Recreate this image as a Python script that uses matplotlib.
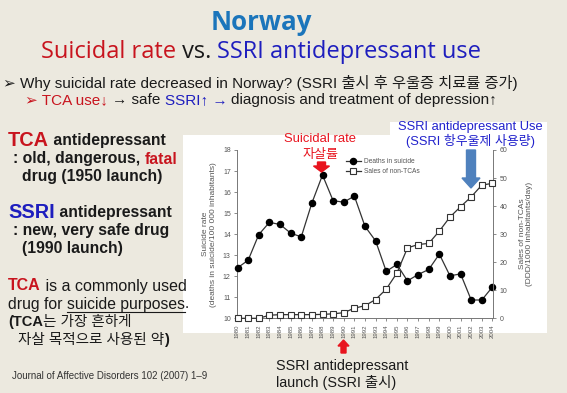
import matplotlib
matplotlib.use("Agg")
import matplotlib.pyplot as plt
from matplotlib.patches import Rectangle, FancyArrow
from matplotlib.lines import Line2D

W, H = 567, 393
years = list(range(1980, 2005))
suicide_rate = [12.40, 12.76, 13.98, 14.56, 14.46, 14.05, 13.87, 15.48, 16.81, 15.59,
                15.52, 15.81, 14.37, 13.68, 12.23, 12.56, 11.78, 12.08, 12.32, 13.05,
                12.02, 12.11, 10.87, 10.87, 11.49]
sales_non_tca = [0.0, 0.0, 0.0, 1.1, 1.3, 1.3, 1.3, 1.3, 1.4, 1.6,
                 2.0, 3.6, 4.5, 6.7, 10.4, 16.1, 25.1, 26.3, 26.7, 31.1,
                 36.1, 39.8, 43.3, 47.5, 48.1]
left_ticks = list(range(10, 19))
right_ticks = list(range(0, 61, 10))

BG = '#ECE9DF'
RED = '#C8141E'
BLUE = '#1E1EBE'
DARK = '#1A1A1A'
FONT = ['Liberation Sans', 'DejaVu Sans', 'Noto Sans CJK KR']

fig = plt.figure(figsize=(W / 100, H / 100), dpi=100)
fig.patch.set_facecolor(BG)
r = fig.canvas.get_renderer()


def fx(x):
    return x / W


def fy(y):
    return 1 - y / H


def width_of(s, props):
    t = fig.text(0, 0, s + '.', **props)
    t2 = fig.text(0, 0, '.', **props)
    w = t.get_window_extent(r).width - t2.get_window_extent(r).width
    t.remove(); t2.remove()
    return w


def put(segs, x, y, ha='left'):
    widths = [width_of(s, p) for s, p in segs]
    total = sum(widths)
    cur = x - total / 2 if ha == 'center' else x
    out = []
    for (s, p), w in zip(segs, widths):
        t = fig.text(fx(cur), fy(y), s, va='center', ha='left', zorder=6, **p)
        out.append((t, cur, w))
        cur += w
    return out


def P(color=DARK, size=10, weight='normal', family=FONT):
    return dict(color=color, fontsize=size, fontweight=weight, family=family)


# white chart panel (behind the axes)
fig.patches.append(Rectangle((fx(183), fy(333)), (547 - 183) / W, (333 - 135) / H,
                             transform=fig.transFigure, facecolor='white', edgecolor='none', zorder=-10))
fig.patches.append(Rectangle((fx(390), fy(135)), (547 - 390) / W, (135 - 122) / H,
                             transform=fig.transFigure, facecolor='white', edgecolor='none', zorder=-10))

# Titles
TF = ['Open Sans', 'DejaVu Sans']
put([('Norway', P('#1B75BB', 18.6, 'bold', TF))], 261, 22, ha='center')
put([('Suicidal rate', P(RED, 17, 'normal', TF)),
     (' vs. ', P(DARK, 17, 'normal', TF)),
     ('SSRI antidepressant use', P(BLUE, 17, 'normal', TF))], 261, 52, ha='center')

put([('➢ Why suicidal rate decreased in Norway? (SSRI 출시 후 우울증 치료률 증가)', P(DARK, 11))], 260, 83, ha='center')
put([('➢ TCA use↓ ', P(RED, 11)),
     ('→ safe ', P(DARK, 11)),
     ('SSRI↑ → ', P(BLUE, 11)),
     ('diagnosis and treatment of depression↑', P(DARK, 11))], 261, 100, ha='center')

# Left notes
put([('TCA', P(RED, 14.3, 'bold')), (' antidepressant', P(DARK, 11.3, 'bold'))], 8, 140)
put([(': old, dangerous, ', P(DARK, 11.3, 'bold')), ('fatal', P(RED, 11.3, 'bold'))], 13, 159)
put([('drug (1950 launch)', P(DARK, 11.3, 'bold'))], 22, 176)
put([('SSRI', P(BLUE, 14.3, 'bold')), (' antidepressant', P(DARK, 11.3, 'bold'))], 8, 213)
put([(': new, very safe drug', P(DARK, 11.3, 'bold'))], 13, 231)
put([('(1990 launch)', P(DARK, 11.3, 'bold'))], 22, 248)
put([('TCA', P(RED, 11.5, 'bold')), (' is a commonly used', P(DARK, 11.5))], 8, 286)
segs = put([('drug for ', P(DARK, 11.3)), ('suicide purposes', P(DARK, 11.3)), ('.', P(DARK, 11.3))], 8, 304)
_, ux, uw = segs[1]
fig.lines.append(Line2D([fx(ux), fx(ux + uw)], [fy(312), fy(312)], transform=fig.transFigure,
                        color=DARK, lw=0.8))
put([('(TCA', P(DARK, 10.5, 'bold')), ('는 가장 흔하게', P(DARK, 10.5))], 8, 322)
put([('자살 목적으로 사용된 약', P(DARK, 10.5)), (')', P(DARK, 10.5, 'bold'))], 18, 340)

put([('Journal of Affective Disorders 102 (2007) 1–9', P('#333333', 7))], 12, 376)

# Chart
AX_L, AX_R, AX_T, AX_B = 237.0, 493.3, 150.0, 318.3
ax = fig.add_axes([fx(AX_L), fy(AX_B), (AX_R - AX_L) / W, (AX_B - AX_T) / H])
ax.set_facecolor('none')
ax.set_xlim(1979.95, 2004.08)
ax.set_ylim(10, 18)
ax2 = ax.twinx()
ax2.set_ylim(0, 60)

GRAY = '#555555'
l1, = ax.plot(years, suicide_rate, color='#333333', lw=0.9, marker='o', markersize=4.4,
              markerfacecolor='black', markeredgecolor='black', label='Deaths in suicide',
              zorder=3, clip_on=False)
l2, = ax2.plot(years, sales_non_tca, color='#333333', lw=0.9, marker='s', markersize=3.7,
               markerfacecolor='white', markeredgecolor='#333333', markeredgewidth=0.8,
               label='Sales of non-TCAs', zorder=3, clip_on=False)

for a in (ax, ax2):
    a.spines['top'].set_visible(False)
    for s in a.spines.values():
        s.set_color('#777777')
        s.set_linewidth(0.7)
ax.spines['right'].set_visible(False)
ax2.spines['left'].set_visible(False)
ax2.spines['bottom'].set_visible(False)

ax.set_xticks(years)
ax.set_xticklabels([str(y) for y in years], rotation=90, fontsize=4.3, color=GRAY, family=FONT)
ax.set_yticks(left_ticks)
ax.set_yticklabels([str(v) for v in left_ticks], fontsize=5, color=GRAY, family=FONT)
ax2.set_yticks(right_ticks)
ax2.set_yticklabels([str(v) for v in right_ticks], fontsize=5, color=GRAY, family=FONT)
for a in (ax, ax2):
    a.tick_params(length=2.5, width=0.6, color='#777777', pad=2)

ax.set_ylabel('Suicide rate\n(deaths in suicide/100 000 inhabitants)', fontsize=6, color=GRAY,
              family=FONT, labelpad=4, linespacing=1.2)
ax2.set_ylabel('Sales of non-TCAs\n(DDD/1000 inhabitants/day)', fontsize=6, color=GRAY,
               family=FONT, labelpad=8, linespacing=1.05)

leg = ax.legend(handles=[l1, l2], loc='upper left', bbox_to_anchor=(fx(346), fy(158)),
                bbox_transform=fig.transFigure, frameon=False, handlelength=2.2,
                handletextpad=0.5, labelspacing=0.5, borderpad=0, borderaxespad=0, labelcolor=GRAY,
                prop={'family': FONT, 'size': 4.8})

# Annotations on chart
put([('Suicidal rate', P('#E8141E', 9.4))], 320, 139, ha='center')
put([('자살률', P('#E8141E', 9.4))], 321, 155, ha='center')
fig.patches.append(FancyArrow(fx(321.5), fy(162), 0, -(172 - 162) / H, width=8 / W,
                              head_width=16 / W, head_length=6 / H, length_includes_head=True,
                              transform=fig.transFigure, color='#E8141E', zorder=5))

put([('SSRI antidepressant Use', P('#2222CC', 9.3))], 470, 127, ha='center')
put([('(SSRI 항우울제 사용량)', P('#2222CC', 9.3))], 470, 141, ha='center')
fig.patches.append(FancyArrow(fx(471), fy(150), 0, -(188 - 150) / H, width=9 / W,
                              head_width=18 / W, head_length=10 / H, length_includes_head=True,
                              transform=fig.transFigure, color='#4F81BD', zorder=5))

# bottom launch annotation
fig.patches.append(FancyArrow(fx(343.5), fy(353), 0, (353 - 340) / H, width=5 / W,
                              head_width=11 / W, head_length=6 / H, length_includes_head=True,
                              transform=fig.transFigure, color='#E8141E', zorder=5))
put([('SSRI antidepressant', P(DARK, 10.4))], 276, 366)
put([('launch (SSRI 출시)', P(DARK, 10.4))], 276, 382)

fig.savefig('out.png', dpi=100, facecolor=fig.get_facecolor())
